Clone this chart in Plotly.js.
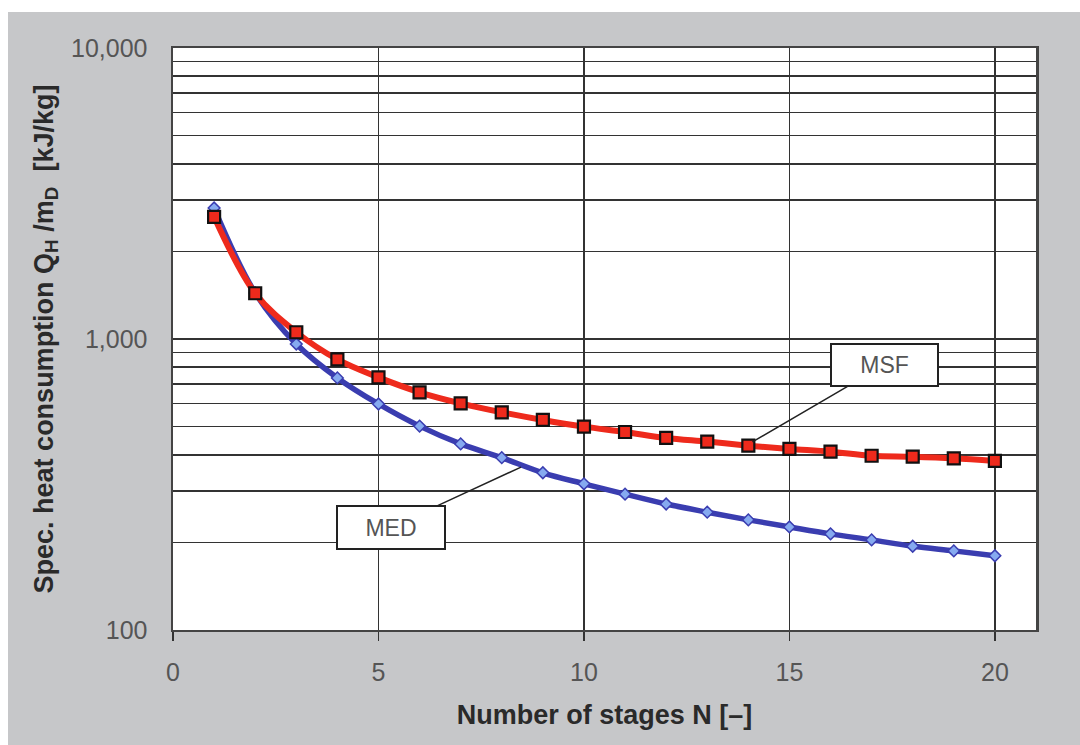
<!DOCTYPE html>
<html>
<head>
<meta charset="utf-8">
<script src="https://cdn.plot.ly/plotly-3.0.1.min.js"></script>
<style>
html,body{margin:0;padding:0;background:#ffffff;}
#chart{position:absolute;left:8px;top:12px;width:1072px;height:733px;}
</style>
</head>
<body>
<div id="chart"></div>
<script>
const stages = [1,2,3,4,5,6,7,8,9,10,11,12,13,14,15,16,17,18,19,20];
const medValues = [2820,1440,961,735,598,502,436,391,347,318,293,271,254,239,226,214,204,194,187,180];
const msfValues = [2630,1436,1055,851,738,656,601,560,527,500,479,457,444,430,419,410,397,394,389,381];
const yTickVals = [100,200,300,400,500,600,700,800,900,1000,2000,3000,4000,5000,6000,7000,8000,9000,10000];
const yTickText = ['100','','','','','','','','','1,000','','','','','','','','','10,000'];
const xTickVals = [0,5,10,15,20];

const traces = [
  {
    x: stages, y: medValues, name: 'MED', type: 'scatter', mode: 'lines+markers',
    line: {color: '#3a3db0', width: 5.5, shape: 'spline'},
    marker: {symbol: 'diamond', size: 9, color: '#86aaf0', line: {color: '#3a3db0', width: 1.5}}
  },
  {
    x: stages, y: msfValues, name: 'MSF', type: 'scatter', mode: 'lines+markers',
    line: {color: '#ee2a1c', width: 6, shape: 'spline'},
    marker: {symbol: 'square', size: 12, color: '#ee2a1c', line: {color: '#111111', width: 2.2}}
  }
];

const fam = 'Liberation Sans, Arial, sans-serif';
const layout = {
  width: 1072, height: 733,
  paper_bgcolor: '#c6c7c9',
  plot_bgcolor: '#ffffff',
  showlegend: false,
  margin: {l: 165, t: 36, r: 44, b: 115},
  font: {family: fam, color: '#555555'},
  xaxis: {
    range: [0, 21],
    tickvals: xTickVals,
    ticks: 'outside', ticklen: 9, tickwidth: 1.5, tickcolor: '#333333',
    ticklabelstandoff: 10,
    tickfont: {size: 25, color: '#555555'},
    showgrid: true, gridcolor: '#333333', gridwidth: 1.2,
    zeroline: false,
    showline: true, mirror: true, linecolor: '#444444', linewidth: 2,
    title: {text: 'Number of stages N [–]', font: {size: 27, color: '#2a2a2a', family: fam, weight: 'bold'}, standoff: 20}
  },
  yaxis: {
    type: 'log',
    range: [2, 4],
    tickvals: yTickVals,
    ticktext: yTickText,
    ticks: '',
    ticklabelstandoff: 18,
    tickfont: {size: 25, color: '#555555'},
    showgrid: true, gridcolor: '#333333', gridwidth: 1.5,
    zeroline: false,
    showline: true, mirror: true, linecolor: '#444444', linewidth: 2.5,
    title: {text: 'Spec. heat consumption Q<sub>H</sub> /m<sub>D</sub>  [kJ/kg]', font: {size: 27, color: '#2a2a2a', family: fam, weight: 'bold'}, standoff: 10}
  },
  annotations: [
    {
      x: 8.47, y: Math.log10(363), xref: 'x', yref: 'y',
      text: 'MED', showarrow: true, arrowhead: 0, arrowwidth: 1.5, arrowcolor: '#222222',
      ax: -130, ay: 60,
      width: 106, height: 41, bgcolor: '#ffffff', bordercolor: '#222222', borderwidth: 2, borderpad: 0,
      font: {size: 23, color: '#555555', family: fam}
    },
    {
      x: 14.1, y: Math.log10(443), xref: 'x', yref: 'y',
      text: 'MSF', showarrow: true, arrowhead: 0, arrowwidth: 1.5, arrowcolor: '#222222',
      ax: 132, ay: -77,
      width: 105, height: 40, bgcolor: '#ffffff', bordercolor: '#222222', borderwidth: 2, borderpad: 0,
      font: {size: 23, color: '#555555', family: fam}
    }
  ]
};

Plotly.newPlot('chart', traces, layout, {displayModeBar: false, staticPlot: true});
</script>
</body>
</html>
